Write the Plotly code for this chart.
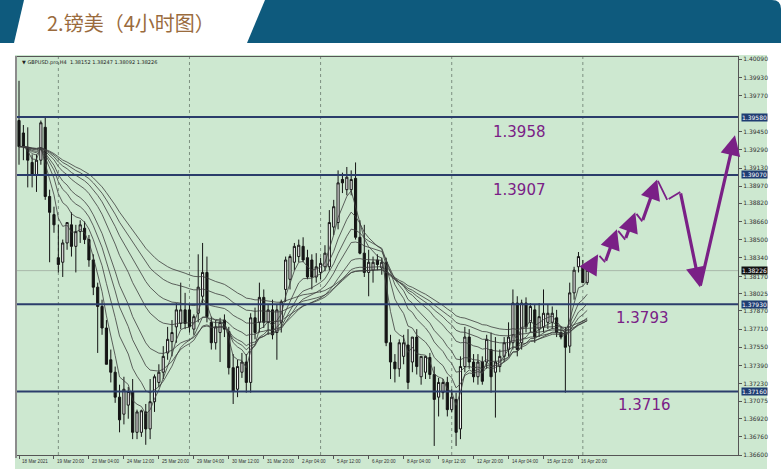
import plotly.graph_objects as go
import pandas as pd

# ---------------- data ----------------
opens = [1.3955, 1.3944, 1.3931, 1.3918, 1.3907, 1.3920, 1.3949, 1.3888, 1.3872, 1.3834,
         1.3830, 1.3847, 1.3863, 1.3844, 1.3857, 1.3860, 1.3850, 1.3832, 1.3808, 1.3791,
         1.3772, 1.3744, 1.3733, 1.3711, 1.3696, 1.3704, 1.3716, 1.3680, 1.3680, 1.3698,
         1.3683, 1.3707, 1.3724, 1.3733, 1.3750, 1.3760, 1.3773, 1.3776, 1.3788, 1.3788,
         1.3771, 1.3785, 1.3800, 1.3821, 1.3777, 1.3759, 1.3768, 1.3779, 1.3769, 1.3737,
         1.3718, 1.3733, 1.3742, 1.3724, 1.3781, 1.3777, 1.3799, 1.3777, 1.3788, 1.3768,
         1.3777, 1.3806, 1.3815, 1.3830, 1.3835, 1.3844, 1.3834, 1.3832, 1.3817, 1.3821,
         1.3826, 1.3826, 1.3861, 1.3865, 1.3903, 1.3894, 1.3894, 1.3904, 1.3852, 1.3838,
         1.3821, 1.3823, 1.3832, 1.3825, 1.3830, 1.3759, 1.3742, 1.3736, 1.3747, 1.3757,
         1.3742, 1.3764, 1.3729, 1.3733, 1.3746, 1.3731, 1.3711, 1.3715, 1.3724, 1.3700,
         1.3709, 1.3683, 1.3738, 1.3764, 1.3742, 1.3729, 1.3742, 1.3742, 1.3753, 1.3733,
         1.3738, 1.3747, 1.3753, 1.3759, 1.3794, 1.3759, 1.3794, 1.3777, 1.3788, 1.3771,
         1.3773, 1.3777, 1.3777, 1.3781, 1.3768, 1.3768, 1.3756, 1.3803, 1.3826, 1.3826,
         1.3812]
highs = [1.3990, 1.3951, 1.3949, 1.3925, 1.3925, 1.3955, 1.3958, 1.3894, 1.3879, 1.3863,
         1.3850, 1.3865, 1.3874, 1.3863, 1.3867, 1.3866, 1.3854, 1.3837, 1.3812, 1.3797,
         1.3779, 1.3753, 1.3738, 1.3722, 1.3729, 1.3720, 1.3727, 1.3700, 1.3700, 1.3705,
         1.3727, 1.3731, 1.3740, 1.3756, 1.3773, 1.3779, 1.3794, 1.3812, 1.3803, 1.3793,
         1.3784, 1.3837, 1.3847, 1.3835, 1.3782, 1.3779, 1.3781, 1.3784, 1.3773, 1.3749,
         1.3744, 1.3750, 1.3749, 1.3785, 1.3790, 1.3812, 1.3806, 1.3793, 1.3797, 1.3793,
         1.3797, 1.3835, 1.3837, 1.3847, 1.3850, 1.3852, 1.3841, 1.3837, 1.3838, 1.3834,
         1.3845, 1.3876, 1.3885, 1.3911, 1.3909, 1.3914, 1.3911, 1.3918, 1.3867, 1.3863,
         1.3841, 1.3835, 1.3837, 1.3834, 1.3834, 1.3766, 1.3749, 1.3762, 1.3766, 1.3771,
         1.3764, 1.3771, 1.3747, 1.3747, 1.3750, 1.3738, 1.3728, 1.3727, 1.3729, 1.3718,
         1.3715, 1.3747, 1.3773, 1.3771, 1.3749, 1.3749, 1.3747, 1.3766, 1.3768, 1.3764,
         1.3753, 1.3764, 1.3777, 1.3806, 1.3800, 1.3797, 1.3799, 1.3794, 1.3793, 1.3794,
         1.3806, 1.3793, 1.3791, 1.3788, 1.3773, 1.3773, 1.3812, 1.3826, 1.3839, 1.3832,
         1.3828]
lows = [1.3916, 1.3920, 1.3896, 1.3896, 1.3892, 1.3916, 1.3885, 1.3830, 1.3856, 1.3821,
        1.3817, 1.3841, 1.3835, 1.3821, 1.3847, 1.3846, 1.3826, 1.3801, 1.3750, 1.3766,
        1.3740, 1.3724, 1.3706, 1.3680, 1.3687, 1.3692, 1.3674, 1.3674, 1.3676, 1.3669,
        1.3674, 1.3698, 1.3720, 1.3727, 1.3744, 1.3747, 1.3759, 1.3771, 1.3771, 1.3768,
        1.3766, 1.3777, 1.3794, 1.3777, 1.3753, 1.3753, 1.3742, 1.3764, 1.3731, 1.3705,
        1.3711, 1.3728, 1.3715, 1.3715, 1.3762, 1.3768, 1.3772, 1.3766, 1.3762, 1.3744,
        1.3768, 1.3795, 1.3806, 1.3823, 1.3830, 1.3830, 1.3815, 1.3806, 1.3812, 1.3815,
        1.3822, 1.3823, 1.3854, 1.3859, 1.3891, 1.3889, 1.3889, 1.3850, 1.3837, 1.3817,
        1.3800, 1.3812, 1.3823, 1.3819, 1.3756, 1.3727, 1.3724, 1.3729, 1.3740, 1.3718,
        1.3733, 1.3731, 1.3722, 1.3727, 1.3727, 1.3668, 1.3694, 1.3709, 1.3694, 1.3698,
        1.3668, 1.3674, 1.3733, 1.3736, 1.3724, 1.3722, 1.3722, 1.3736, 1.3715, 1.3693,
        1.3733, 1.3742, 1.3747, 1.3753, 1.3747, 1.3753, 1.3768, 1.3768, 1.3759, 1.3764,
        1.3768, 1.3771, 1.3771, 1.3764, 1.3762, 1.3715, 1.3750, 1.3797, 1.3821, 1.3812,
        1.3810]
closes = [1.3932, 1.3932, 1.3920, 1.3907, 1.3920, 1.3953, 1.3888, 1.3874, 1.3863, 1.3828,
          1.3847, 1.3865, 1.3844, 1.3857, 1.3863, 1.3850, 1.3832, 1.3808, 1.3791, 1.3772,
          1.3740, 1.3733, 1.3711, 1.3691, 1.3718, 1.3716, 1.3680, 1.3698, 1.3699, 1.3683,
          1.3707, 1.3729, 1.3733, 1.3747, 1.3762, 1.3768, 1.3788, 1.3788, 1.3776, 1.3773,
          1.3782, 1.3808, 1.3821, 1.3782, 1.3759, 1.3773, 1.3777, 1.3771, 1.3737, 1.3716,
          1.3738, 1.3742, 1.3724, 1.3781, 1.3768, 1.3799, 1.3777, 1.3788, 1.3766, 1.3788,
          1.3795, 1.3832, 1.3835, 1.3844, 1.3845, 1.3832, 1.3817, 1.3817, 1.3826, 1.3829,
          1.3838, 1.3865, 1.3879, 1.3900, 1.3900, 1.3905, 1.3903, 1.3852, 1.3838, 1.3821,
          1.3830, 1.3830, 1.3828, 1.3830, 1.3759, 1.3742, 1.3736, 1.3759, 1.3759, 1.3724,
          1.3764, 1.3738, 1.3747, 1.3747, 1.3731, 1.3709, 1.3724, 1.3724, 1.3700, 1.3711,
          1.3680, 1.3738, 1.3764, 1.3742, 1.3729, 1.3742, 1.3725, 1.3762, 1.3729, 1.3742,
          1.3747, 1.3759, 1.3764, 1.3794, 1.3753, 1.3794, 1.3773, 1.3791, 1.3764, 1.3782,
          1.3785, 1.3785, 1.3785, 1.3768, 1.3764, 1.3755, 1.3803, 1.3823, 1.3835, 1.3812,
          1.3823]

ma_periods = [5, 10, 15, 20, 30, 40, 50, 60]

x_tick_labels = ["18 Mar 2021", "19 Mar 20:00", "23 Mar 04:00", "24 Mar 12:00", "25 Mar 20:00",
                 "29 Mar 04:00", "30 Mar 12:00", "31 Mar 20:00", "2 Apr 04:00", "5 Apr 12:00",
                 "6 Apr 20:00", "8 Apr 04:00", "9 Apr 12:00", "12 Apr 20:00", "14 Apr 04:00",
                 "15 Apr 12:00", "16 Apr 20:00"]
x_tick_bars = [0, 8, 16, 24, 32, 40, 48, 56, 64, 72, 80, 88, 96, 104, 112, 120, 128]
grid_bars = [9, 39, 69, 99, 129]

y_tick_values = [1.40090, 1.39930, 1.39770, 1.39450, 1.39290, 1.39130, 1.38970,
                 1.38820, 1.38660, 1.38500, 1.38340, 1.38170, 1.38025, 1.37870, 1.37710,
                 1.37550, 1.37390, 1.37230, 1.37075, 1.36920, 1.36760, 1.36600]

levels = [1.3958, 1.3907, 1.3793, 1.3716]
level_labels = ["1.3958", "1.3907", "1.3793", "1.3716"]
level_label_x = [114.6, 114.6, 142.6, 143.2]
level_label_y = [1.3945, 1.3894, 1.3781, 1.3704]
level_axis_tags = ["1.39580", "1.39070", "1.37930", "1.37160"]
current_price = 1.38226

forecast_x = [130.2, 132.5, 134.1, 136.8, 138.7, 141.0, 142.6, 146.0, 148.3, 151.3, 155.8, 163.8]
forecast_y = [1.3822, 1.3837, 1.3830, 1.3859, 1.3850, 1.3874, 1.3866, 1.3903, 1.3885, 1.3892,
              1.3808, 1.3942]
forecast_heads = [True, False, True, False, True, False, True, False, False, True, True]

title_text = "2.镑美（4小时图）"
info_text = "▼ GBPUSD.pro,H4  1.38152 1.38247 1.38092 1.38226"

# ---------------- layout helpers ----------------
W, H = 781, 469
PL, PR, PT, PB = 17, 738, 57, 455


def px(xp):
    return (xp - PL) / (PR - PL)


def py(yp):
    return (PB - yp) / (PB - PT)


bars = list(range(len(closes)))
GREEN = "#cde8d0"
PURPLE = "#7a2086"
NAVY = "#2b3d6b"

fig = go.Figure()

fig.add_trace(go.Candlestick(
    x=bars, open=opens, high=highs, low=lows, close=closes,
    increasing=dict(line=dict(color="#151515", width=1), fillcolor="#f3f3f3"),
    decreasing=dict(line=dict(color="#151515", width=1), fillcolor="#151515"),
    whiskerwidth=0, showlegend=False, hoverinfo="skip",
))

cs = pd.Series(closes)
for p in ma_periods:
    ema = cs.ewm(span=p, adjust=False).mean()
    fig.add_trace(go.Scatter(x=bars, y=ema, mode="lines",
                             line=dict(color="#3c3c3c", width=0.8),
                             showlegend=False, hoverinfo="skip"))

shapes = []
shapes.append(dict(type="rect", xref="paper", yref="paper", x0=px(15), x1=px(767),
                   y0=py(469), y1=py(55), fillcolor=GREEN, line=dict(width=0), layer="below"))
shapes.append(dict(type="line", xref="paper", yref="paper", x0=px(16), x1=px(16),
                   y0=py(458), y1=py(56), line=dict(color="#8c8c8c", width=2)))
shapes.append(dict(type="path", xref="paper", yref="paper",
                   path=f"M {px(0)},{py(0)} L {px(24)},{py(0)} L {px(14)},{py(43)} L {px(0)},{py(43)} Z",
                   fillcolor="#0e5a7d", line=dict(width=0)))
shapes.append(dict(type="path", xref="paper", yref="paper",
                   path=(f"M {px(247)},{py(43)} L {px(265)},{py(0)} L {px(772)},{py(0)} "
                         f"Q {px(781)},{py(0)} {px(781)},{py(9)} L {px(781)},{py(43)} Z"),
                   fillcolor="#0e5a7d", line=dict(width=0)))
for gb in grid_bars:
    shapes.append(dict(type="line", xref="x", yref="paper", x0=gb, x1=gb, y0=0, y1=1,
                       line=dict(color="#7d8f80", width=1, dash="dot"), layer="below"))
shapes.append(dict(type="line", xref="paper", yref="y", x0=0, x1=1, y0=current_price,
                   y1=current_price, line=dict(color="#a9b8aa", width=1), layer="below"))
for lv in levels:
    shapes.append(dict(type="line", xref="paper", yref="y", x0=0, x1=1, y0=lv, y1=lv,
                       line=dict(color=NAVY, width=2)))

annotations = []
annotations.append(dict(text=title_text, xref="paper", yref="paper", x=px(45), y=py(22),
                        xanchor="left", yanchor="middle", showarrow=False,
                        font=dict(family="Noto Sans CJK SC", size=20, color="#9a6b3d")))
annotations.append(dict(text=info_text, xref="paper", yref="paper", x=px(20), y=py(62),
                        xanchor="left", yanchor="middle", showarrow=False,
                        font=dict(family="DejaVu Sans", size=5, color="#222")))
for lab, bx in zip(x_tick_labels, x_tick_bars):
    annotations.append(dict(text=lab, xref="x", yref="paper", x=bx, y=0, yshift=-2, xshift=1,
                            xanchor="left", yanchor="top", showarrow=False,
                            font=dict(family="Liberation Sans", size=4.6, color="#333")))
for lab, lx, ly in zip(level_labels, level_label_x, level_label_y):
    annotations.append(dict(text=lab, xref="x", yref="y", x=lx, y=ly, showarrow=False,
                            xanchor="center", yanchor="middle",
                            font=dict(family="DejaVu Sans", size=15, color=PURPLE)))
for tag, lv in zip(level_axis_tags, levels):
    annotations.append(dict(text=tag, xref="paper", yref="y", x=1, y=lv, xanchor="left",
                            yanchor="middle", xshift=3, showarrow=False, bgcolor="#1f3d72",
                            borderpad=0, font=dict(family="DejaVu Sans", size=6, color="white")))
annotations.append(dict(text=f"{current_price:.5f}", xref="paper", yref="y", x=1, y=current_price,
                        xanchor="left", yanchor="middle", xshift=3, showarrow=False,
                        bgcolor="#111", borderpad=0,
                        font=dict(family="DejaVu Sans", size=6, color="white")))
for i, head in enumerate(forecast_heads):
    annotations.append(dict(
        x=forecast_x[i + 1], y=forecast_y[i + 1], ax=forecast_x[i], ay=forecast_y[i],
        xref="x", yref="y", axref="x", ayref="y", text="", showarrow=True,
        arrowhead=2 if head else 0, arrowsize=1.25 if head else 1,
        arrowwidth=3.2 if head else 1.8, arrowcolor=PURPLE, standoff=0, startstandoff=0))

fig.update_layout(
    width=W, height=H,
    margin=dict(l=PL, r=W - PR, t=PT, b=H - PB, autoexpand=False),
    paper_bgcolor="white", plot_bgcolor=GREEN,
    shapes=shapes, annotations=annotations, showlegend=False,
    xaxis=dict(range=[-0.46, 164.5], rangeslider=dict(visible=False), showgrid=False,
               zeroline=False, showticklabels=False, tickvals=x_tick_bars, ticks="outside",
               ticklen=3, tickcolor="#555", showline=True, linecolor="#555", mirror=True,
               linewidth=1, automargin=False),
    yaxis=dict(range=[1.3660, 1.4011], side="right", showgrid=False, zeroline=False,
               tickvals=y_tick_values, ticktext=[f"{v:.5f}" for v in y_tick_values],
               tickfont=dict(family="DejaVu Sans", size=6, color="#333"), ticks="outside",
               ticklen=3, tickcolor="#555", showline=True, linecolor="#555", mirror=True,
               linewidth=1, automargin=False),
)

fig.write_html("out.html", config={"displayModeBar": False},
               post_script="document.body.style.margin='0';document.body.style.padding='0';"
                           "document.documentElement.style.overflow='hidden';")
